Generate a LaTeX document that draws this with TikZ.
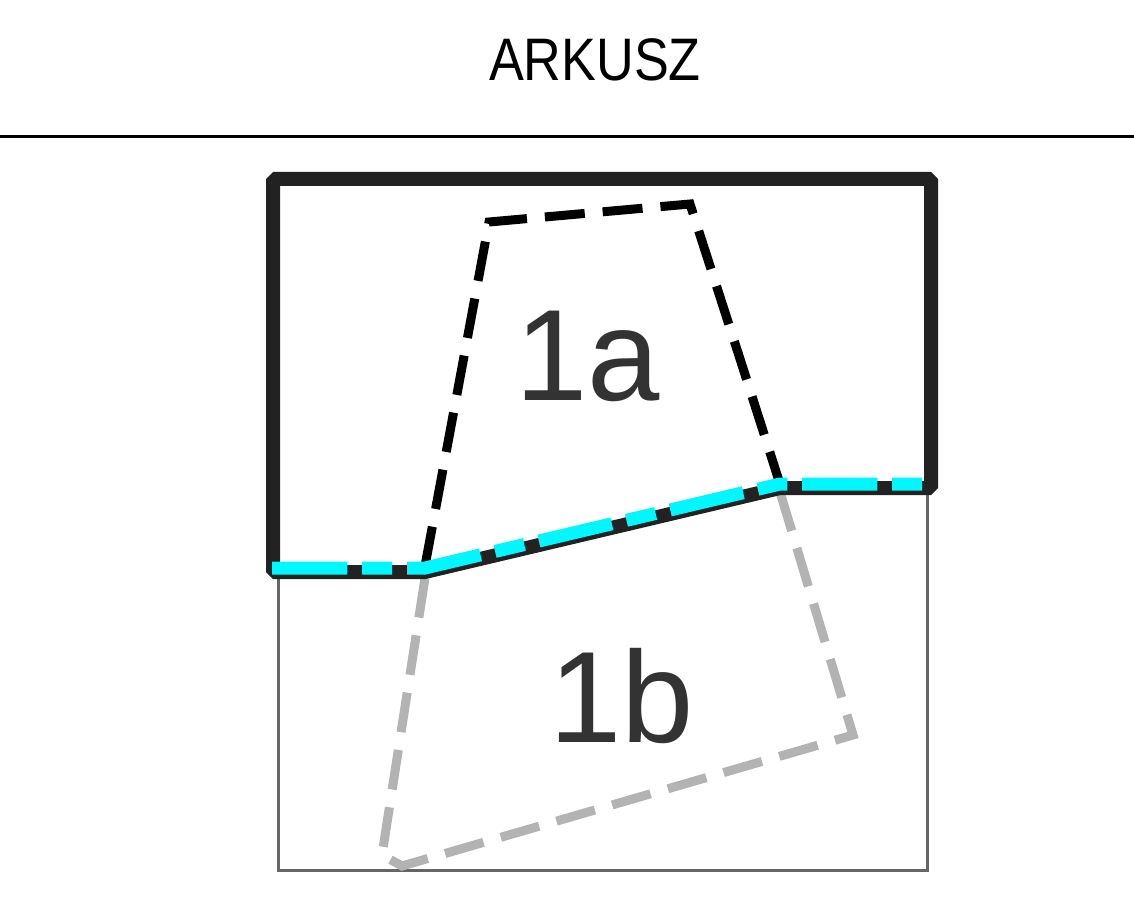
\documentclass[tikz,border=0pt]{standalone}
\usepackage{fontspec}
\setmainfont{Liberation Sans}
\usetikzlibrary{positioning}

\definecolor{frame}{HTML}{222222}
\definecolor{sheetgray}{HTML}{666666}
\definecolor{piecegray}{HTML}{B3B3B3}
\definecolor{cut}{HTML}{00F7FF}
\definecolor{labeltext}{HTML}{333333}

\begin{document}
\begin{tikzpicture}[x=1pt, y=-1pt,
    sheet/.style={draw=sheetgray, line width=3pt},
    upper/.style={draw=frame, line width=14pt, line join=bevel},
    cutline/.style={draw=cut, line width=13pt, dash pattern=on 75pt off 15pt on 30pt off 15pt},
    piecea/.style={draw=black, line width=9pt, dash pattern=on 40pt off 18pt},
    pieceb/.style={draw=piecegray, line width=9pt, dash pattern=on 40pt off 18pt},
    label/.style={text=labeltext, font=\fontsize{130}{150}\selectfont, inner sep=0pt}]
        \useasboundingbox (0,0) rectangle (1134,901);

        % naglowek
        \node[font=\fontsize{60}{70}\selectfont, inner sep=0pt, xscale=0.87] (title) at (595,60) {ARKUSZ};
        \draw[line width=3pt] (0,137) -- (1134,137);

        % punkty
        \coordinate (tl) at (273,179);
        \coordinate (tr) at (931,179);
        \coordinate (br) at (931,488);
        \coordinate (kr) at (780,488);
        \coordinate (kl) at (425,572);
        \coordinate (bl) at (273,572);

        % dolna czesc arkusza
        \coordinate (sl) at (278,572);
        \coordinate (sr) at (927,490);
        \coordinate (sbl) at (278,870);
        \coordinate (sbr) at (927,870);
        \draw[sheet] (sl) -- (sbl) -- (sbr) -- (sr);

        % element 1b
        \coordinate (b1) at (425,578);
        \coordinate (b2) at (382,855);
        \coordinate (b3) at (402,866);
        \coordinate (b4) at (853,735);
        \coordinate (b5) at (780,492);
        \draw[pieceb] (b1) -- (b2) -- (b3) -- (b4) -- (b5);

        % element 1a
        \coordinate (a1) at (425,566);
        \coordinate (a2) at (489,222);
        \coordinate (a3) at (690,204);
        \coordinate (a4) at (741,362);
        \coordinate (a5) at (780,484);
        \draw[piecea] (a1) -- (a2) -- (a3) -- (a4) -- (a5);

        % gorna czesc
        \draw[upper] (kl) -- (bl) -- (tl) -- (tr) -- (br) -- (kr) -- cycle;

        % linia ciecia
        \coordinate (c1) at (272,568);
        \coordinate (c2) at (425,568);
        \coordinate (c3) at (780,484);
        \coordinate (c4) at (925,484);
        \draw[cutline] (c1) -- (c2) -- (c3) -- (c4);

        % opisy
        \node[label] (la) at (588,356) {1a};
        \node[label] (lb) at (622,696) {1b};
    \end{tikzpicture}
\end{document}
